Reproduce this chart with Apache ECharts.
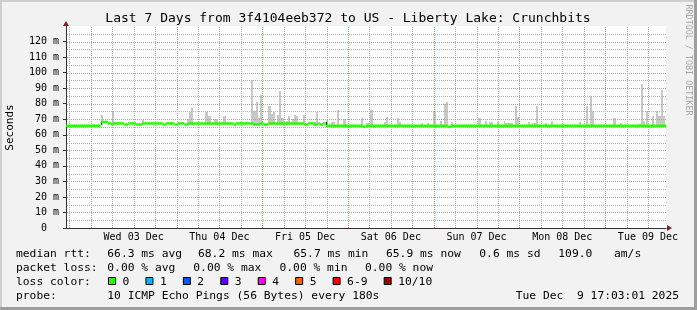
<!DOCTYPE html>
<html>
<head>
<meta charset="utf-8">
<script src="https://cdn.jsdelivr.net/npm/echarts@6/dist/echarts.min.js"></script>
<style>
html,body{margin:0;padding:0;background:#f2f2f2;}
#chart{width:697px;height:310px;}
</style>
</head>
<body>
<div id="chart"></div>
<script>
// ---------- data (time = hours since window start, Tue Dec 02 17:03:01) ----------
const startHourOfDay = 17 + 3 / 60 + 1 / 3600;
const spanHours = 168;
const dayLabels = ['Wed 03 Dec', 'Thu 04 Dec', 'Fri 05 Dec', 'Sat 06 Dec', 'Sun 07 Dec', 'Mon 08 Dec', 'Tue 09 Dec'];

// median rtt (ms): value holds from medianT[i] to the next change point
const medianT = [0, 9.7, 11.7, 12.6, 13.1, 16.3, 17.4, 19.6, 21.3, 27.1, 28.0, 30.3, 31.3, 33.1, 34.1, 46.8,
                 47.6, 52.4, 54.3, 55.2, 56.6, 66.6, 67.8, 69.2, 70.6, 71.1, 72.0, 72.7, 83.1, 83.9, 106.9, 107.8];
const medianV = [65.8, 68.3, 67.3, 66.6, 67.3, 66.6, 67.3, 66.6, 67.3, 66.6, 67.3, 66.6, 67.3, 66.6, 67.3, 66.6,
                 67.3, 66.6, 67.3, 66.6, 67.3, 66.6, 67.3, 66.6, 67.3, 66.6, 67.3, 65.8, 65.2, 65.8, 65.2, 65.8];

// smoke (spread of the pings): from hour, to hour, highest rtt (ms)
const smokeFrom = [7.5, 9.7, 12.8, 21.3, 29.1, 33.9, 34.4, 35.0, 39.0, 39.8, 41.5, 43.9, 51.8, 52.4, 53.2, 53.8,
  54.3, 56.5, 57.4, 58.0, 59.1, 59.7, 60.2, 61.6, 62.2, 63.3, 63.8, 64.4, 66.4, 69.1, 70.0, 72.8, 74.2, 75.8,
  77.5, 82.5, 84.0, 85.1, 89.0, 89.6, 92.6, 93.1, 99.4, 101.1, 102.7, 104.6, 105.8, 106.4, 107.7, 115.3, 117.2,
  118.5, 120.8, 122.6, 123.0, 125.7, 126.3, 129.4, 130.5, 131.6, 134.1, 135.8, 138.9, 143.6, 145.6, 146.7, 147.3,
  153.2, 155.1, 160.4, 161.0, 161.6, 162.4, 164.1, 165.2, 165.8, 166.6, 167.2];
const smokeTo = [8.1, 10.3, 13.4, 21.8, 29.7, 34.4, 35.0, 35.6, 39.8, 40.5, 42.5, 44.8, 52.4, 53.2, 53.8, 54.3,
  54.9, 57.4, 58.0, 58.5, 59.7, 60.2, 61.0, 62.2, 62.7, 63.8, 64.4, 65.0, 67.0, 70.0, 70.6, 73.4, 75.3, 76.4,
  78.4, 83.1, 84.8, 85.9, 89.6, 90.2, 93.1, 93.7, 99.9, 101.6, 103.6, 105.2, 106.4, 107.0, 108.3, 116.2, 117.8,
  119.5, 121.3, 123.0, 125.2, 126.3, 126.9, 129.9, 131.6, 132.2, 134.7, 136.4, 139.4, 144.2, 146.2, 147.3, 147.8,
  154.0, 155.7, 161.0, 161.6, 162.1, 163.0, 164.6, 165.8, 166.6, 167.2, 167.7];
const smokeTop = [67.2, 72.9, 74.8, 69.7, 68.4, 70.3, 74.4, 77.4, 74.4, 72.3, 70.3, 72.3, 95.5, 75.1, 80.9, 70.8,
  85.8, 78.3, 73.5, 74.4, 72.9, 88.4, 70.8, 69.0, 72.3, 70.3, 72.9, 71.9, 72.9, 68.4, 74.4, 69.7, 68.0, 76.1,
  70.3, 71.0, 67.5, 76.1, 68.0, 71.2, 70.5, 68.0, 67.3, 67.3, 75.5, 68.6, 79.8, 81.1, 68.0, 71.0, 69.0,
  68.0, 68.0, 68.6, 67.3, 78.7, 71.5, 68.4, 67.8, 78.3, 67.8, 69.0, 67.1, 68.4, 78.7, 85.2, 75.1,
  70.5, 67.8, 67.1, 92.9, 68.6, 75.5, 72.3, 75.1, 72.3, 89.0, 72.3];
const smokeFloor = 66.5;

// y axis
const yMin = 0, yMax = 130, yStep = 10;

// legend texts
const rowLabels = ['median rtt:', 'packet loss:', 'loss color:', 'probe:'];
const rttStats = ['66.3 ms avg', '68.2 ms max', '65.7 ms min', '65.9 ms now', '0.6 ms sd', '109.0', 'am/s'];
const lossStats = ['0.00 % avg', '0.00 % max', '0.00 % min', '0.00 % now'];
const lossNames = ['0', '1', '2', '3', '4', '5', '6-9', '10/10'];
const lossColors = ['#26ff00', '#00b8ff', '#0059ff', '#5e00ff', '#ff00ff', '#ff5e00', '#ff0000', '#a00000'];
const probeText = '10 ICMP Echo Pings (56 Bytes) every 180s';
const stampText = 'Tue Dec  9 17:03:01 2025';
const titleText = 'Last 7 Days from 3f4104eeb372 to US - Liberty Lake: Crunchbits';

// ---------- derived ----------
const MONO = "'DejaVu Sans Mono', monospace";
const firstSixHour = 18 - startHourOfDay;          // Dec 02 18:00
const noonPositions = dayLabels.map((d, i) => firstSixHour + 18 + 24 * i);
const vGridT = [];
for (let t = firstSixHour; t < spanHours; t += 6) vGridT.push(t);
const hGridV = [];
for (let v = yMin + 5; v < yMax; v += 5) hGridV.push(v);

const smokeData = smokeFrom.map((f, i) => [f, smokeTo[i], smokeTop[i]]);
const medianData = medianT.map((t, i) => [
  t,
  i + 1 < medianT.length ? medianT[i + 1] : spanHours,
  medianV[i],
  i + 1 < medianV.length ? medianV[i + 1] : medianV[i]
]);

const MAJOR = '#e58a8a', MINOR = '#b0b0b0';

// dotted grid line made of 1px squares on every other pixel
function dotLine(x0, y0, x1, y1, color) {
  const children = [];
  if (x0 === x1) {
    for (let y = y0; y < y1; y += 2) children.push({ type: 'rect', shape: { x: x0, y: y, width: 1, height: 1 }, style: { fill: color } });
  } else {
    for (let x = x0; x < x1; x += 2) children.push({ type: 'rect', shape: { x: x, y: y0, width: 1, height: 1 }, style: { fill: color } });
  }
  return { type: 'group', children };
}

const chart = echarts.init(document.getElementById('chart'), null, { renderer: 'canvas' });

const graphics = [];
graphics.push({ type: 'rect', shape: { x: 0, y: 0, width: 697, height: 2 }, style: { fill: '#cfcfcf' }, silent: true });
graphics.push({ type: 'rect', shape: { x: 0, y: 0, width: 2, height: 310 }, style: { fill: '#cfcfcf' }, silent: true });
graphics.push({ type: 'rect', shape: { x: 0, y: 307, width: 697, height: 3 }, style: { fill: '#9e9e9e' }, silent: true });
graphics.push({ type: 'rect', shape: { x: 694, y: 0, width: 3, height: 310 }, style: { fill: '#9e9e9e' }, silent: true });
graphics.push({ type: 'text', x: 348, y: 19, silent: true,
  style: { text: titleText, fontFamily: MONO, fontSize: 13, fill: '#000', align: 'center', verticalAlign: 'middle' } });
graphics.push({ type: 'text', x: 10, y: 127.5, rotation: Math.PI / 2, silent: true,
  style: { text: 'Seconds', fontFamily: MONO, fontSize: 11, fill: '#000', align: 'center', verticalAlign: 'middle' } });
graphics.push({ type: 'text', x: 688, y: 60, rotation: -Math.PI / 2, silent: true,
  style: { text: 'RRDTOOL / TOBI OETIKER', fontFamily: MONO, fontSize: 8.4, fill: '#a8a8a8', align: 'center', verticalAlign: 'middle' } });

const LF = 11.3, CW = 6.83;
const rowY = [254.3, 268.3, 282.3, 296.3];
rowLabels.forEach((t, i) => graphics.push({ type: 'text', x: 16, y: rowY[i], silent: true,
  style: { text: t, fontFamily: MONO, fontSize: LF, fill: '#000', verticalAlign: 'middle' } }));
const rttX = [107.3, 198, 293.5, 386, 479.3, 558.3, 614];
rttStats.forEach((t, i) => graphics.push({ type: 'text', x: rttX[i], y: rowY[0], silent: true,
  style: { text: t, fontFamily: MONO, fontSize: LF, fill: '#000', verticalAlign: 'middle' } }));
const lossX = [107.3, 193.3, 279.5, 365];
lossStats.forEach((t, i) => graphics.push({ type: 'text', x: lossX[i], y: rowY[1], silent: true,
  style: { text: t, fontFamily: MONO, fontSize: LF, fill: '#000', verticalAlign: 'middle' } }));
let bx = 108;
lossNames.forEach((n, i) => {
  graphics.push({ type: 'rect', shape: { x: bx + 0.5, y: 277.5, width: 7, height: 7 }, silent: true,
    style: { fill: lossColors[i], stroke: '#000', lineWidth: 1 } });
  graphics.push({ type: 'text', x: bx + 14.5, y: rowY[2], silent: true,
    style: { text: n, fontFamily: MONO, fontSize: LF, fill: '#000', verticalAlign: 'middle' } });
  bx = bx + 14.5 + n.length * CW + 16.1;
});
graphics.push({ type: 'text', x: 107.3, y: rowY[3], silent: true,
  style: { text: probeText, fontFamily: MONO, fontSize: LF, fill: '#000', verticalAlign: 'middle' } });
graphics.push({ type: 'text', x: 679, y: rowY[3], silent: true,
  style: { text: stampText, fontFamily: MONO, fontSize: LF, fill: '#000', align: 'right', verticalAlign: 'middle' } });

const option = {
  animation: false,
  backgroundColor: '#f2f2f2',
  grid: { left: 66, top: 26, width: 600, height: 202, show: true, backgroundColor: '#ffffff', borderWidth: 0,
          containLabel: false, outerBoundsMode: 'none' },
  xAxis: [{
    type: 'value', min: 0, max: spanHours,
    axisLine: { show: true, onZero: false, lineStyle: { color: '#333', width: 1 } },
    axisTick: { show: false },
    splitLine: { show: false },
    axisLabel: {
      show: true, customValues: noonPositions, margin: 4,
      fontFamily: MONO, fontSize: 10, color: '#000',
      formatter: v => dayLabels[Math.round((v - noonPositions[0]) / 24)] || ''
    }
  }, {
    type: 'value', min: 0, max: 1, position: 'bottom', show: true,
    axisLine: { show: true, onZero: false, symbol: ['none', 'triangle'], symbolSize: [6, 5], symbolOffset: [0, 3.5],
                lineStyle: { color: '#801f1f', width: 0 } },
    axisTick: { show: false }, axisLabel: { show: false }, splitLine: { show: false }
  }],
  yAxis: [{
    type: 'value', min: yMin, max: yMax, interval: yStep,
    axisLine: { show: true, onZero: false, lineStyle: { color: '#333', width: 1 } },
    axisTick: { show: true, length: 3, lineStyle: { color: '#333' } },
    splitLine: { show: false },
    axisLabel: {
      margin: 7, fontFamily: MONO, fontSize: 10, color: '#000', showMaxLabel: false,
      formatter: v => (v === 0 ? '0  ' : (v + ' m'))
    }
  }, {
    type: 'value', min: 0, max: 1, position: 'left', show: true,
    axisLine: { show: true, onZero: false, symbol: ['none', 'triangle'], symbolSize: [6, 5], symbolOffset: [0, 2.5],
                lineStyle: { color: '#801f1f', width: 0 } },
    axisTick: { show: false }, axisLabel: { show: false }, splitLine: { show: false }
  }],
  graphic: graphics,
  series: [
    {
      name: 'smoke', type: 'custom', xAxisIndex: 0, yAxisIndex: 0, z: 2, silent: true, clip: false,
      encode: { x: [0, 1], y: 2 },
      data: smokeData,
      renderItem(params, api) {
        const p0 = api.coord([api.value(0), api.value(2)]);
        const p1 = api.coord([api.value(1), smokeFloor]);
        const x0 = Math.round(p0[0]), x1 = Math.max(Math.round(p1[0]), x0 + 1);
        const y0 = Math.round(p0[1]), y1 = Math.round(p1[1]);
        return { type: 'rect', shape: { x: x0, y: y0, width: x1 - x0, height: y1 - y0 }, style: { fill: '#c8c8c8' } };
      }
    },
    {
      name: 'grid lines', type: 'custom', xAxisIndex: 0, yAxisIndex: 0, z: 3, silent: true, clip: false,
      data: [0],
      renderItem(params, api) {
        const cs = params.coordSys;
        const top = Math.round(cs.y) + 1, bottom = Math.round(cs.y + cs.height);
        const children = [];
        vGridT.forEach((t, i) => {
          const x = Math.round(api.coord([t, yMin])[0]);
          children.push(dotLine(x, top, x, bottom, i % 4 === 1 ? MAJOR : MINOR));
        });
        hGridV.forEach((v, i) => {
          const y = Math.round(api.coord([0, v])[1]);
          children.push(dotLine(Math.round(cs.x) + 1, y, Math.round(cs.x + cs.width), y, i % 2 === 1 ? MAJOR : MINOR));
        });
        return { type: 'group', children };
      }
    },
    {
      name: 'median rtt', type: 'custom', xAxisIndex: 0, yAxisIndex: 0, z: 4, silent: true, clip: false,
      encode: { x: [0, 1], y: [2, 3] },
      data: medianData,
      renderItem(params, api) {
        const t0 = api.value(0), t1 = api.value(1), v = api.value(2), vn = api.value(3);
        const a = api.coord([t0, v]), b = api.coord([t1, v]);
        const children = [{ type: 'rect', shape: { x: a[0], y: a[1] - 1.25, width: b[0] - a[0], height: 2.5 },
                            style: { fill: lossColors[0] } }];
        if (Math.abs(vn - v) > 1) {
          const c = api.coord([t1, vn]);
          const x = Math.round(b[0]) + 0.5;
          children.push({ type: 'line', shape: { x1: x, y1: b[1] - 1.25, x2: x, y2: c[1] + 1.25 },
                          style: { stroke: '#000', lineWidth: 1 } });
        }
        return { type: 'group', children };
      }
    }
  ]
};
chart.setOption(option);
</script>
</body>
</html>
